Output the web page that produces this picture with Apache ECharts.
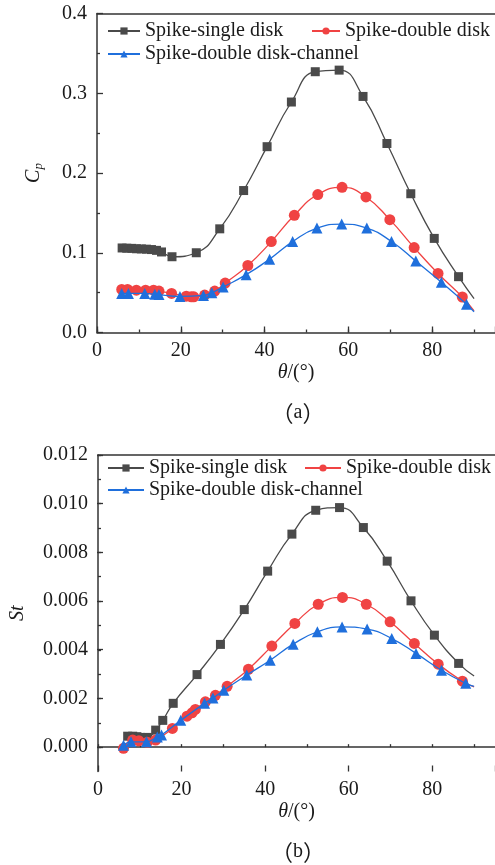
<!DOCTYPE html>
<html>
<head>
<meta charset="utf-8">
<script src="https://cdn.jsdelivr.net/npm/echarts@6/dist/echarts.min.js"></script>
<style>html,body{margin:0;padding:0;background:#fff}#c{width:495px;height:865px}</style>
</head>
<body>
<div id="c"></div>
<script>
// ---- data ----
const seriesNames = ['Spike-single disk', 'Spike-double disk', 'Spike-double disk-channel'];
const xTickLabels = [0, 20, 40, 60, 80];
const cpTickLabels = ['0.0', '0.1', '0.2', '0.3', '0.4'];
const stTickLabels = ['0.000', '0.002', '0.004', '0.006', '0.008', '0.010', '0.012'];

// (a) Cp vs theta
const cpSingleX = [6.0, 7.1, 8.3, 9.4, 10.6, 11.8, 13.0, 14.2, 15.4, 17.9, 23.7, 29.3, 35.0, 40.6, 46.4, 52.1, 57.8, 63.5, 69.2, 74.9, 80.5, 86.3, 90];
const cpSingleY = [0.106, 0.1057, 0.1055, 0.105, 0.1048, 0.1045, 0.104, 0.103, 0.101, 0.095, 0.100, 0.130, 0.178, 0.233, 0.289, 0.327, 0.329, 0.296, 0.237, 0.174, 0.118, 0.070, 0.0425];
const cpDoubleX = [5.9, 7.3, 9.4, 11.6, 13.5, 14.8, 17.8, 21.3, 22.5, 23.1, 25.7, 28.1, 30.6, 36.0, 41.6, 47.1, 52.7, 58.5, 64.2, 69.9, 75.7, 81.4, 87.2, 90];
const cpDoubleY = [0.054, 0.054, 0.053, 0.053, 0.053, 0.052, 0.049, 0.0455, 0.0448, 0.0448, 0.047, 0.052, 0.062, 0.084, 0.114, 0.147, 0.173, 0.182, 0.170, 0.1415, 0.1065, 0.074, 0.0445, 0.027];
const cpChannelX = [5.9, 7.5, 11.4, 13.8, 14.8, 19.8, 25.4, 27.4, 30.1, 35.6, 41.2, 46.7, 52.5, 58.4, 64.4, 70.3, 76.1, 82.2, 88.2, 90];
const cpChannelY = [0.049, 0.049, 0.049, 0.048, 0.0475, 0.0452, 0.0465, 0.050, 0.057, 0.0725, 0.092, 0.114, 0.131, 0.136, 0.131, 0.114, 0.0895, 0.063, 0.0355, 0.026];

// (b) St vs theta
const stSingleX = [7.1, 8.3, 9.3, 10.2, 11.8, 13.8, 15.5, 18.0, 23.7, 29.3, 35.0, 40.6, 46.4, 52.1, 57.8, 63.5, 69.2, 74.9, 80.5, 86.3, 90];
const stSingleY = [0.00045, 0.00045, 0.00043, 0.0004, 0.0004, 0.0007, 0.0011, 0.0018, 0.00298, 0.00422, 0.00565, 0.00723, 0.00875, 0.00973, 0.00984, 0.00902, 0.00764, 0.00601, 0.0046, 0.00344, 0.00292];
const stDoubleX = [6.1, 8.3, 9.8, 11.8, 13.8, 17.8, 21.3, 22.5, 23.3, 25.7, 28.1, 30.9, 36.0, 41.6, 47.1, 52.7, 58.5, 64.2, 69.9, 75.7, 81.4, 87.2, 90];
const stDoubleY = [-0.00005, 0.00029, 0.00026, 0.0002, 0.00029, 0.00077, 0.00127, 0.00141, 0.00155, 0.00186, 0.00213, 0.0025, 0.0032, 0.00415, 0.00508, 0.00587, 0.00615, 0.00587, 0.00515, 0.00426, 0.00341, 0.00271, 0.00248];
const stChannelX = [6.1, 7.9, 11.6, 14.2, 15.2, 19.8, 25.5, 27.5, 30.1, 35.6, 41.2, 46.7, 52.5, 58.4, 64.4, 70.3, 76.1, 82.2, 88.0, 90];
const stChannelY = [0.00008, 0.00022, 0.00022, 0.00042, 0.0005, 0.0011, 0.0018, 0.00202, 0.00234, 0.00296, 0.00357, 0.00423, 0.00474, 0.00494, 0.00485, 0.00446, 0.00385, 0.00316, 0.00262, 0.0025];

// ---- styling ----
const FONT = 'Liberation Serif';
const TXT = '#1a1a1a';
const AX = '#333';
const colors = ['#4a4a4a', '#f04343', '#1f6fdc'];
const symbols = ['rect', 'circle', 'triangle'];
const symSizes = [9, 11, 11];

function pts(xs, ys) {
  // last point is the end of the fitted curve (no marker)
  return xs.map((x, i) => i === xs.length - 1 ? { value: [x, ys[i]], symbol: 'none' } : [x, ys[i]]);
}
function mkSeries(k, xs, ys, xi, yi) {
  return {
    name: seriesNames[k], type: 'line', xAxisIndex: xi, yAxisIndex: yi,
    data: pts(xs, ys), smooth: 0.5, symbol: symbols[k], symbolSize: symSizes[k],
    itemStyle: { color: colors[k] }, lineStyle: { color: colors[k], width: 1.3 },
    emphasis: { disabled: true }, z: 2 + k
  };
}
function dataX(gi) {
  return {
    type: 'value', gridIndex: gi, min: 0, max: 95, interval: 10,
    axisLine: { show: true, lineStyle: { color: AX, width: 1.5 } },
    axisTick: { show: true, inside: true, length: 3, lineStyle: { color: AX, width: 1.3 } },
    axisLabel: { show: true, showMaxLabel: false, margin: 8, fontFamily: FONT, fontSize: 20, color: TXT,
      formatter: v => xTickLabels.indexOf(Math.round(v)) >= 0 ? String(Math.round(v)) : '' },
    splitLine: { show: false },
    name: '{i|θ}/(°)', nameLocation: 'middle', nameGap: 30,
    nameTextStyle: { fontFamily: FONT, fontSize: 20, color: TXT, rich: { i: { fontFamily: FONT, fontSize: 20, fontStyle: 'italic', color: TXT } } }
  };
}
function majorX(gi) {
  return {
    type: 'value', gridIndex: gi, min: 0, max: 95, interval: 20, position: 'bottom',
    axisLine: { show: false }, axisLabel: { show: false }, splitLine: { show: false },
    axisTick: { show: true, inside: true, length: 6, lineStyle: { color: AX, width: 1.3 } }
  };
}
function borderX(gi) {
  return {
    type: 'value', gridIndex: gi, min: 0, max: 95, position: 'top',
    axisLine: { show: true, lineStyle: { color: AX, width: 1.5 } },
    axisTick: { show: false }, axisLabel: { show: false }, splitLine: { show: false }
  };
}
function panelLabel(letter, y) {
  return {
    type: 'text', x: 298, y: y,
    style: {
      text: '{b|（}{a|' + letter + '}{b|）}', textAlign: 'center', textVerticalAlign: 'middle',
      rich: {
        b: { fontFamily: 'Noto Sans CJK SC', fontSize: 22, fill: TXT, color: TXT },
        a: { fontFamily: FONT, fontSize: 20, fill: TXT, color: TXT }
      }
    }
  };
}

const option = {
  animation: false,
  backgroundColor: '#fff',
  grid: [
    { left: 97, right: -1, top: 13.5, height: 319 },
    { left: 97, right: -1, top: 455, height: 316.5 },
    { left: 97, right: -1, top: 455, height: 292 }
  ],
  xAxis: [
    dataX(0), majorX(0), borderX(0),
    dataX(1), majorX(1), borderX(1),
    { type: 'value', gridIndex: 2, min: 0, max: 95, show: false }
  ],
  yAxis: [
    {
      type: 'value', gridIndex: 0, min: 0, max: 0.4, interval: 0.1,
      axisLine: { show: true, lineStyle: { color: AX, width: 1.5 } },
      axisTick: { show: true, inside: true, length: 6, lineStyle: { color: AX, width: 1.3 } },
      minorTick: { show: true, splitNumber: 2, length: 3, lineStyle: { color: AX, width: 1.3 } },
      splitLine: { show: false },
      axisLabel: { margin: 10, fontFamily: FONT, fontSize: 20, color: TXT,
        formatter: v => cpTickLabels[Math.round(v * 10)] || '' },
      name: '{c|C}{p|p}', nameLocation: 'middle', nameGap: 52,
      nameTextStyle: { rich: {
        c: { fontFamily: FONT, fontSize: 20, fontStyle: 'italic', color: TXT },
        p: { fontFamily: FONT, fontSize: 13, fontStyle: 'italic', color: TXT, padding: [10, 0, 0, 0] }
      } }
    },
    {
      type: 'value', gridIndex: 1, min: -0.001, max: 0.012, interval: 0.001,
      axisLine: { show: true, lineStyle: { color: AX, width: 1.5 } },
      axisTick: { show: true, inside: true, length: 3, lineStyle: { color: AX, width: 1.3 } },
      splitLine: { show: false },
      axisLabel: { margin: 10, fontFamily: FONT, fontSize: 20, color: TXT, showMinLabel: false,
        formatter: v => { const k = Math.round(v * 1000); return (k >= 0 && k % 2 === 0) ? (stTickLabels[k / 2] || '') : ''; } },
      name: 'St', nameLocation: 'middle', nameGap: 70,
      nameTextStyle: { fontFamily: FONT, fontSize: 20, fontStyle: 'italic', color: TXT }
    },
    {
      type: 'value', gridIndex: 2, min: 0, max: 0.012, interval: 0.002,
      axisLine: { show: false }, axisLabel: { show: false }, splitLine: { show: false },
      axisTick: { show: true, inside: true, length: 6, lineStyle: { color: AX, width: 1.3 } }
    }
  ],
  legend: [
    { data: [seriesNames[0]], left: 107, top: 21, itemWidth: 32 },
    { data: [seriesNames[1]], left: 311, top: 21, itemWidth: 28 },
    { data: [seriesNames[2]], left: 107, top: 44, itemWidth: 32 },
    { data: [seriesNames[0]], left: 107, top: 458, itemWidth: 36 },
    { data: [seriesNames[1]], left: 304, top: 458, itemWidth: 36 },
    { data: [seriesNames[2]], left: 107, top: 480, itemWidth: 36 }
  ].map(l => Object.assign({
    orient: 'horizontal', itemHeight: 9, itemGap: 0, padding: 0, selectedMode: false,
    textStyle: { fontFamily: FONT, fontSize: 20, color: TXT }
  }, l)),
  series: [
    mkSeries(0, cpSingleX, cpSingleY, 0, 0),
    mkSeries(1, cpDoubleX, cpDoubleY, 0, 0),
    mkSeries(2, cpChannelX, cpChannelY, 0, 0),
    mkSeries(0, stSingleX, stSingleY, 3, 1),
    mkSeries(1, stDoubleX, stDoubleY, 3, 1),
    mkSeries(2, stChannelX, stChannelY, 3, 1)
  ],
  graphic: [panelLabel('a', 413), panelLabel('b', 852)]
};
const chart = echarts.init(document.getElementById('c'), null, { renderer: 'canvas' });
chart.setOption(option);
</script>
</body>
</html>
